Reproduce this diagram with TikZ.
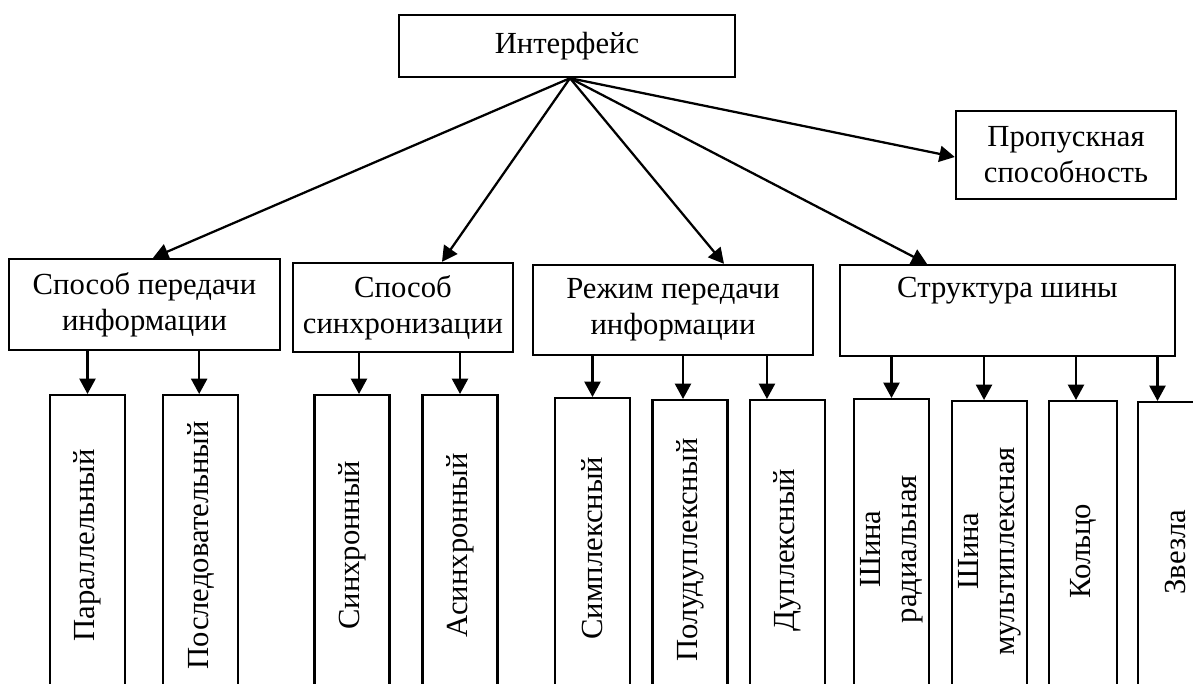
\documentclass[tikz,border=0pt]{standalone}
\usepackage{fontspec}
\setmainfont{Liberation Serif}
\usetikzlibrary{arrows.meta}
\begin{document}
\begin{tikzpicture}[x=0.75pt,y=-0.75pt,
  box/.style={draw,line width=1.8pt,inner sep=0pt,align=center,font=\fontsize{23}{27}\selectfont},
  leaf/.style={box,anchor=north,minimum width=56.25pt,minimum height=225pt},
  arr/.style={line width=1.7pt,-{Triangle[length=11.5pt,width=12pt]}}]
\clip (0,0) rectangle (1193,684);
% top level
\node[box,minimum width=252pt,minimum height=46.5pt] (top) at (567,46) {Интерфейс};
\node[box,minimum width=165pt,minimum height=66pt] (prop) at (1066,155) {Пропускная\\способность};
% groups
\node[box,minimum width=203.25pt,minimum height=68.25pt] (g1) at (144.5,304.5) {Способ передачи\\информации};
\node[box,minimum width=165pt,minimum height=66.75pt] (g2) at (403,307.5) {Способ\\синхронизации};
\node[box,minimum width=210pt,minimum height=67.5pt] (g3) at (673,310) {Режим передачи\\информации};
\node[box,minimum width=251.25pt,minimum height=68.25pt] (g4) at (1007.5,310.5) {Структура шины\\\strut};
% leaves
\node[leaf] (c1) at (87.5,394) {\rotatebox{90}{Параллельный}};
\node[leaf] (c2) at (200.5,394) {\rotatebox{90}{Последовательный}};
\node[leaf] (c3) at (352,394) {\rotatebox{90}{Синхронный}};
\node[leaf] (c4) at (460,394) {\rotatebox{90}{Асинхронный}};
\node[leaf] (c5) at (592.5,397) {\rotatebox{90}{Симплексный}};
\node[leaf] (c6) at (690,399) {\rotatebox{90}{Полудуплексный}};
\node[leaf] (c7) at (787.5,399) {\rotatebox{90}{Дуплексный}};
\node[leaf] (c8) at (891.5,398) {\rotatebox{90}{\begin{tabular}{@{}c@{}}Шина\\радиальная\end{tabular}}};
\node[leaf] (c9) at (989.5,400) {\rotatebox{90}{\begin{tabular}{@{}c@{}}Шина\\мультиплексная\end{tabular}}};
\node[leaf,minimum width=51pt] (c10) at (1083,400) {\rotatebox{90}{Кольцо}};
\node[leaf] (c11) at (1175.5,401) {\rotatebox{90}{Звезла}};
% connectors from the top box
\coordinate (apex) at ([xshift=2.25pt]top.south);
\draw[arr] (apex) -- ([xshift=6.4pt]g1.north);
\draw[arr] (apex) -- ([xshift=29.25pt]g2.north);
\draw[arr] (apex) -- ([xshift=38.25pt]g3.north);
\draw[arr] (apex) -- ([xshift=-60.4pt]g4.north);
\draw[arr] (apex) -- ([yshift=-1.5pt]prop.west);
% group to leaves
\draw[arr] (c1.north |- g1.south) -- (c1.north);
\draw[arr] ([xshift=-1pt]c2.north |- g1.south) -- ([xshift=-1pt]c2.north);
\draw[arr] ([xshift=5.25pt]c3.north |- g2.south) -- ([xshift=5.25pt]c3.north);
\draw[arr] (c4.north |- g2.south) -- (c4.north);
\draw[arr] (c5.north |- g3.south) -- (c5.north);
\draw[arr] ([xshift=-5.25pt]c6.north |- g3.south) -- ([xshift=-5.25pt]c6.north);
\draw[arr] ([xshift=-15.4pt]c7.north |- g3.south) -- ([xshift=-15.4pt]c7.north);
\draw[arr] (c8.north |- g4.south) -- (c8.north);
\draw[arr] ([xshift=-4.1pt]c9.north |- g4.south) -- ([xshift=-4.1pt]c9.north);
\draw[arr] ([xshift=-5.25pt]c10.north |- g4.south) -- ([xshift=-5.25pt]c10.north);
\draw[arr] ([xshift=-13.5pt]c11.north |- g4.south) -- ([xshift=-13.5pt]c11.north);
\end{tikzpicture}
\end{document}
